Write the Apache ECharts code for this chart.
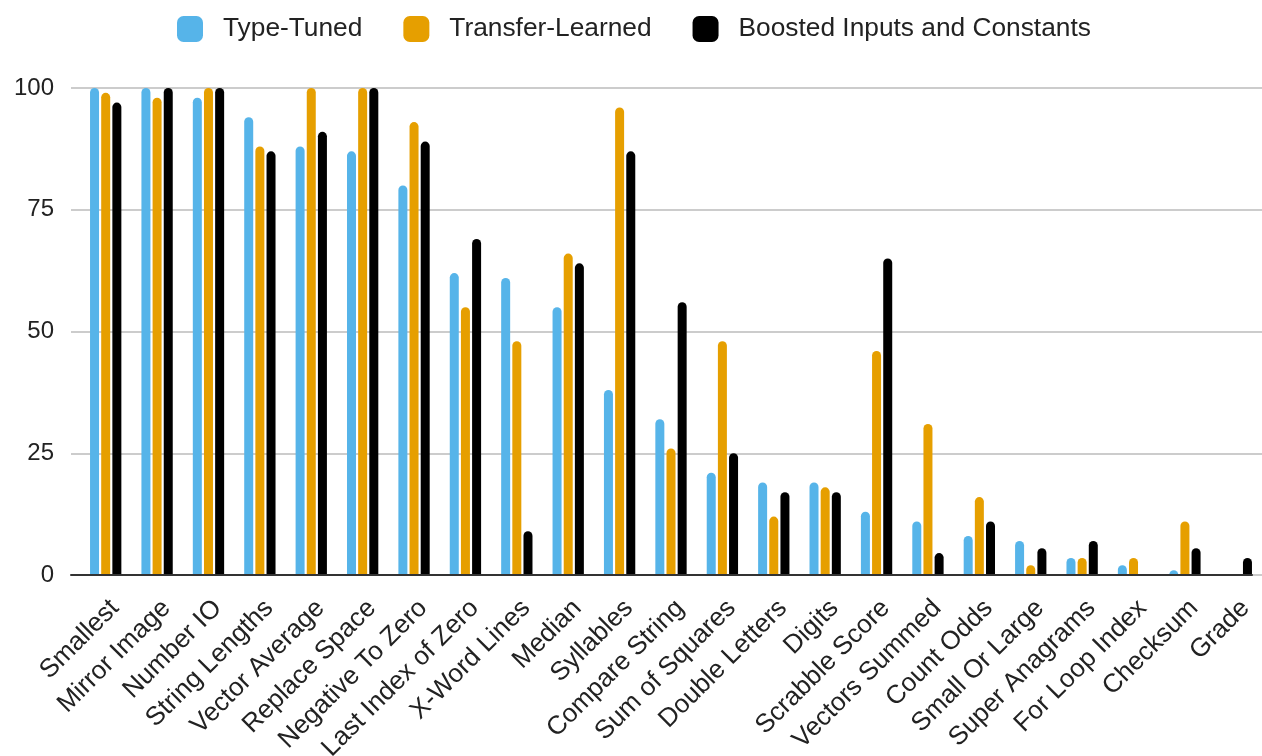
<!DOCTYPE html>
<html>
<head>
<meta charset="utf-8">
<script src="https://cdn.jsdelivr.net/npm/echarts@6/dist/echarts.min.js"></script>
<style>
html,body{margin:0;padding:0;background:#fff;}
#c{width:1262px;height:756px;}
</style>
</head>
<body>
<div id="c"></div>
<script>
const categories = ["Smallest","Mirror Image","Number IO","String Lengths","Vector Average","Replace Space","Negative To Zero","Last Index of Zero","X-Word Lines","Median","Syllables","Compare String","Sum of Squares","Double Letters","Digits","Scrabble Score","Vectors Summed","Count Odds","Small Or Large","Super Anagrams","For Loop Index","Checksum","Grade"];
const typeTuned = [100,100,98,94,88,87,80,62,61,55,38,32,21,19,19,13,11,8,7,3.5,2,1,0];
const transferLearned = [99,98,100,88,100,100,93,55,48,66,96,26,48,12,18,46,31,16,2,3.5,3.5,11,0];
const boosted = [97,100,100,87,91,100,89,69,9,64,87,56,25,17,17,65,4.5,11,5.5,7,0,5.5,3.5];
const yTicks = [0,25,50,75,100];

const FONT = '"Liberation Sans", Arial, sans-serif';
const chart = echarts.init(document.getElementById('c'), null, {renderer:'canvas'});
const barStyle = (c)=>({color:c, borderRadius:[4.5,4.5,0,0]});
const option = {
  animation:false,
  textStyle:{fontFamily:FONT},
  legend:{
    top:11, left:172,
    itemWidth:26, itemHeight:26, itemGap:41,
    icon:'roundRect',
    textStyle:{fontSize:26.3, color:'#222', fontFamily:FONT, padding:[0,0,0,15]},
    data:['Type-Tuned','Transfer-Learned','Boosted Inputs and Constants']
  },
  grid:[
    {left:71, right:0, top:88, bottom:181, containLabel:false, outerBoundsMode:'none'},
    {left:80, right:0, top:88, bottom:181, containLabel:false, outerBoundsMode:'none'},
    {left:71, right:10, top:88, bottom:181, containLabel:false, outerBoundsMode:'none'}
  ],
  xAxis:[
    {gridIndex:0, type:'value', show:false},
    {gridIndex:1, type:'category', data:categories,
     axisLine:{show:false}, axisTick:{show:false},
     axisLabel:{interval:0, rotate:45, fontSize:26, color:'#222', margin:20, verticalAlign:'top', fontFamily:FONT}},
    {gridIndex:2, type:'category', data:[''], z:10,
     axisLine:{show:true, lineStyle:{color:'#333', width:2}},
     axisTick:{show:false}, axisLabel:{show:false}}
  ],
  yAxis:[
    {gridIndex:0, type:'value', min:yTicks[0], max:yTicks[yTicks.length-1], interval:25,
     axisLine:{show:false}, axisTick:{show:false},
     splitLine:{lineStyle:{color:'#cccccc', width:2}},
     axisLabel:{fontSize:24, color:'#222', margin:17, fontFamily:FONT}},
    {gridIndex:1, type:'value', min:0, max:100, show:false, splitLine:{show:false}},
    {gridIndex:2, type:'value', min:0, max:100, show:false, splitLine:{show:false}}
  ],
  series:[
    {name:'Type-Tuned', type:'bar', xAxisIndex:1, yAxisIndex:1, data:typeTuned,
     barWidth:9, barGap:'24%', itemStyle:barStyle('#56b4e9')},
    {name:'Transfer-Learned', type:'bar', xAxisIndex:1, yAxisIndex:1, data:transferLearned,
     barWidth:9, barGap:'24%', itemStyle:barStyle('#e69f00')},
    {name:'Boosted Inputs and Constants', type:'bar', xAxisIndex:1, yAxisIndex:1, data:boosted,
     barWidth:9, barGap:'24%', itemStyle:barStyle('#000000')}
  ]
};
chart.setOption(option);
</script>
</body>
</html>
